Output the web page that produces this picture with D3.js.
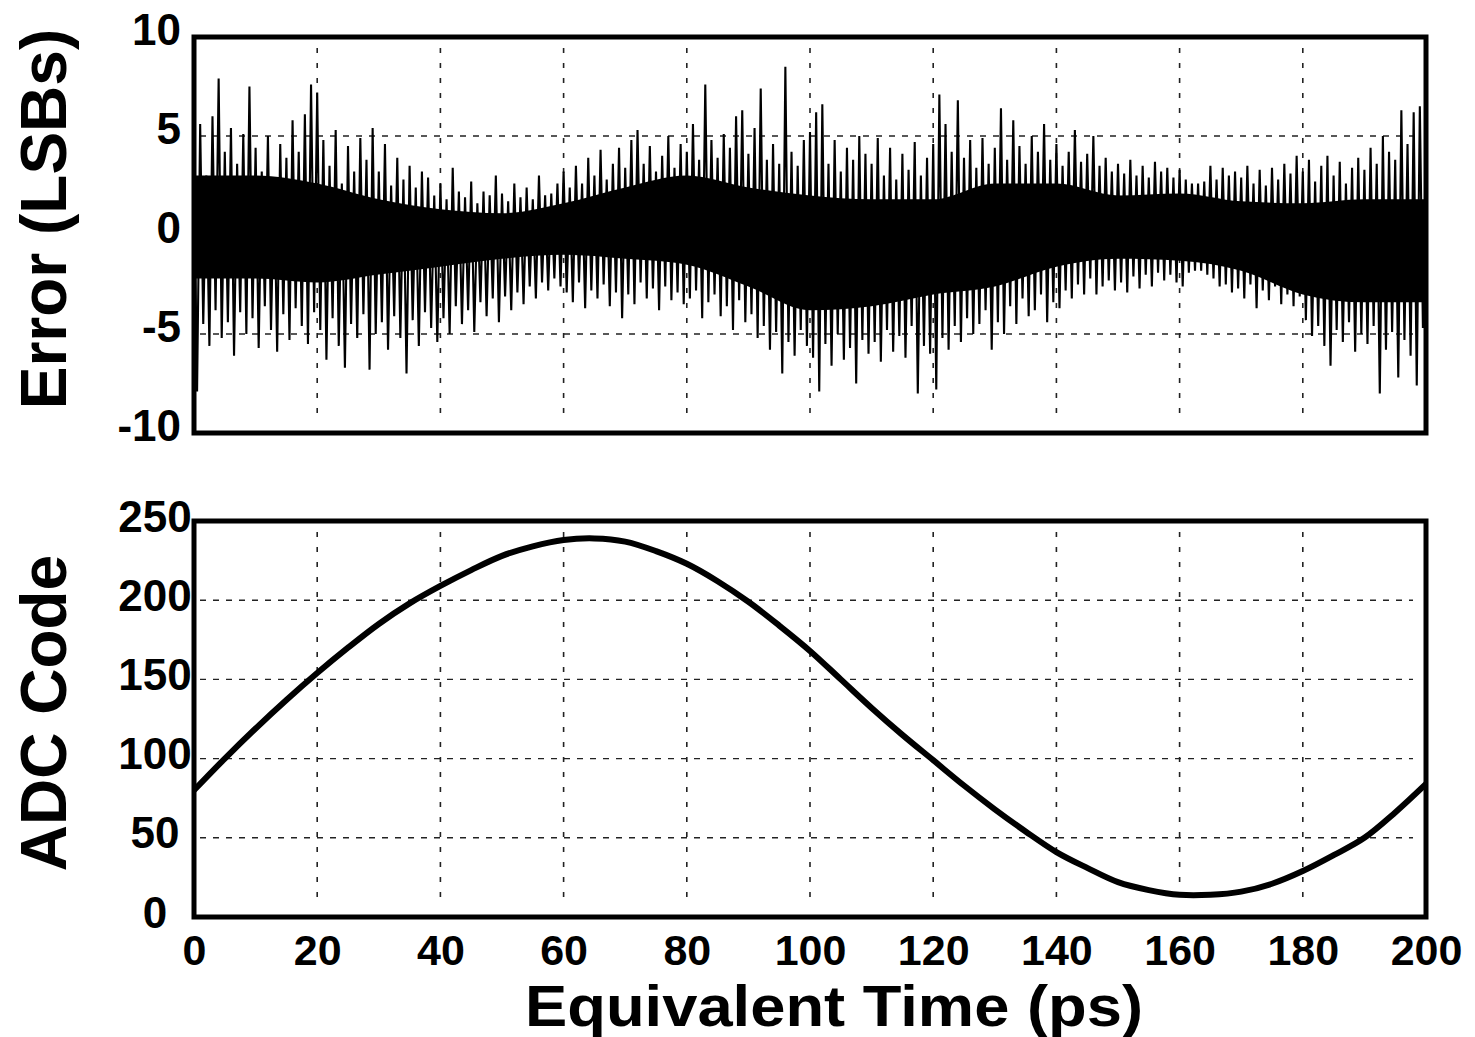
<!DOCTYPE html>
<html>
<head>
<meta charset="utf-8">
<script src="https://cdn.jsdelivr.net/npm/d3@7"></script>
<style>
  body { margin: 0; background: #fff; }
  svg text { font-family: "Liberation Sans", Arial, Helvetica, sans-serif; font-weight: bold; fill: #000; }
</style>
</head>
<body>
<div id="chart"></div>
<script>
// ---- data ----
const timeTicks = [0, 20, 40, 60, 80, 100, 120, 140, 160, 180, 200];
const errorTicks = [-10, -5, 0, 5, 10];
const codeTicks = [0, 50, 100, 150, 200, 250];

// ADC code, every 5 ps
const codeTime = d3.range(0, 201, 5);
const codeValues = [80, 100, 119, 137, 154, 170, 185, 198, 209, 219, 228, 234, 238, 239, 237, 231,
  223, 212, 199, 184, 168, 150, 132, 115, 99, 83, 68, 54, 41, 31, 22, 17, 14, 14, 16, 21, 29, 39, 50, 66, 84];

// error spikes: upper and lower excursion in each 1 ps slot (LSBs)
const errHigh = [
  3.5, 5.6, 3.0, 6.0, 7.9, 4.2, 5.4, 3.6, 5.1, 7.5,
  4.4, 3.2, 5.0, 2.8, 4.6, 3.9, 5.8, 4.2, 6.1, 7.6,
  7.2, 4.8, 3.5, 5.3, 2.6, 4.5, 3.2, 4.9, 3.8, 5.4,
  3.2, 4.6, 2.5, 3.9, 2.8, 3.5, 2.4, 3.2, 2.9, 2.0,
  2.6, 1.8, 3.4, 2.2, 1.9, 2.7, 1.6, 2.2, 2.0, 3.0,
  2.1, 1.7, 2.6, 1.9, 2.4, 1.8, 3.0, 2.0, 2.1, 2.6,
  3.2, 2.4, 3.5, 2.6, 3.9, 3.0, 4.3, 2.8, 3.6, 4.4,
  3.4, 4.8, 5.3, 3.6, 4.5, 3.2, 4.0, 5.0, 3.4, 4.6,
  4.2, 5.6, 3.8, 7.6, 4.8, 3.9, 5.1, 4.4, 6.0, 6.3,
  4.1, 5.4, 7.4, 3.8, 4.6, 3.6, 8.5, 4.2, 3.5, 4.8,
  5.2, 6.2, 6.6, 3.6, 4.8, 3.2, 4.4, 3.8, 5.0, 4.1,
  3.6, 4.9, 3.0, 4.4, 2.8, 4.1, 3.3, 4.7, 3.0, 3.9,
  4.6, 7.1, 5.6, 4.2, 6.8, 3.9, 4.8, 3.4, 4.9, 3.6,
  4.4, 6.4, 3.8, 5.8, 4.5, 3.6, 5.0, 4.2, 5.6, 3.8,
  4.6, 3.5, 4.2, 5.3, 3.7, 4.1, 5.0, 3.5, 3.9, 3.2,
  3.6, 3.1, 3.8, 3.0, 3.5, 2.9, 3.7, 3.2, 3.4, 2.9,
  3.3, 2.8, 2.6, 2.6, 2.7, 3.5, 2.8, 3.4, 3.0, 3.2,
  2.9, 3.5, 2.6, 3.3, 2.5, 3.4, 2.8, 3.6, 3.1, 4.0,
  3.2, 3.8, 2.7, 3.5, 4.0, 3.0, 3.7, 2.6, 3.4, 3.9,
  3.3, 4.4, 3.6, 5.0, 4.2, 3.8, 6.3, 4.6, 6.2, 6.5,
  4.0];
const errLow = [
  -7.9, -4.5, -5.6, -3.8, -5.2, -4.4, -6.1, -3.9, -5.0, -4.2,
  -5.7, -3.6, -4.8, -5.9, -4.0, -5.3, -3.7, -4.6, -5.5, -3.9,
  -4.8, -6.3, -4.2, -5.6, -6.7, -4.5, -5.2, -4.0, -6.8, -5.0,
  -4.4, -5.8, -4.1, -5.2, -7.0, -4.3, -5.6, -3.9, -4.7, -5.4,
  -4.2, -5.0, -3.6, -4.5, -3.8, -4.9, -3.4, -4.1, -3.2, -4.4,
  -3.1, -3.8, -2.9, -3.5, -2.6, -3.2, -2.4, -2.8, -2.2, -2.6,
  -2.9, -3.4, -2.4, -3.7, -2.8, -3.2, -2.5, -3.6, -2.9, -4.2,
  -3.0, -3.5, -2.4, -3.2, -2.7, -3.8, -2.6, -3.3, -2.9, -3.5,
  -3.2, -2.8, -4.2, -3.4, -3.0, -4.1, -3.6, -4.8, -3.3, -4.4,
  -4.0, -5.2, -4.6, -5.8, -4.9, -7.0, -5.4, -6.1, -4.8, -5.6,
  -6.2, -7.9, -5.5, -6.6, -5.0, -6.3, -5.7, -7.5, -5.3, -6.0,
  -5.4, -6.4, -4.8, -5.9, -5.1, -6.2, -4.6, -8.0, -5.6, -6.0,
  -7.8, -5.2, -5.8, -4.6, -5.4, -4.2, -5.0, -4.5, -3.8, -5.8,
  -4.4, -5.0, -3.6, -4.5, -3.2, -4.1, -3.8, -3.0, -4.4, -3.4,
  -3.7, -2.8, -3.2, -2.5, -3.0, -2.2, -3.0, -2.6, -2.3, -2.8,
  -2.4, -2.9, -2.1, -2.7, -2.0, -2.6, -1.9, -2.3, -2.0, -2.4,
  -2.6, -1.9, -1.8, -1.8, -2.0, -2.2, -2.6, -2.5, -2.9, -2.7,
  -3.2, -2.5, -3.7, -2.8, -3.3, -2.6, -3.5, -3.0, -3.6, -3.1,
  -4.3, -5.1, -4.6, -5.6, -6.6, -4.8, -5.4, -4.4, -5.9, -5.0,
  -5.5, -4.6, -8.0, -5.8, -4.9, -7.2, -5.3, -6.1, -7.6, -4.7,
  -5.0];

// dense core of the error trace, every 10 ps
const coreTime = d3.range(0, 201, 10);
const coreLow = [-2.2, -2.2, -2.4, -2.0, -1.6, -1.2, -1.0, -1.2, -1.5, -2.6, -3.8,
  -3.6, -3.0, -2.6, -1.6, -1.2, -1.3, -1.8, -3.0, -3.4, -3.4];
const coreHigh = [3.0, 3.0, 2.6, 1.8, 1.3, 1.1, 1.6, 2.4, 3.0, 2.4, 2.0,
  1.8, 1.8, 2.6, 2.6, 2.0, 2.1, 1.7, 1.6, 1.8, 1.8];

// ---- layout ----
const svgWidth = 1475, svgHeight = 1037;
const plotLeft = 194, plotRight = 1426;
const panels = {
  err: { top: 37, bottom: 433 },
  code: { top: 521, bottom: 917 },
};

const svg = d3.select("#chart").append("svg")
  .attr("width", svgWidth)
  .attr("height", svgHeight);

const xScale = d3.scaleLinear().domain([0, 200]).range([plotLeft, plotRight]);
const yErr = d3.scaleLinear().domain([-10, 10]).range([panels.err.bottom, panels.err.top]);
const yCode = d3.scaleLinear().domain([0, 250]).range([panels.code.bottom, panels.code.top]);
const plainNum = d => String(d); // hyphen minus, like the original

function clipFor(id, p) {
  svg.append("clipPath").attr("id", id)
    .append("rect")
    .attr("x", plotLeft).attr("y", p.top)
    .attr("width", plotRight - plotLeft).attr("height", p.bottom - p.top);
}
clipFor("clip-err", panels.err);
clipFor("clip-code", panels.code);

function drawGrid(p, yScale, yGrid) {
  const g = svg.append("g").attr("class", "grid");
  g.selectAll("line.vgrid")
    .data(timeTicks.slice(1, -1))
    .enter().append("line")
    .attr("x1", d => xScale(d)).attr("x2", d => xScale(d))
    .attr("y1", p.top + 11).attr("y2", p.bottom - 10)
    .attr("stroke", "#222").attr("stroke-width", 1.6)
    .attr("stroke-dasharray", "5,10");
  g.selectAll("line.hgrid")
    .data(yGrid)
    .enter().append("line")
    .attr("x1", plotLeft + 6).attr("x2", plotRight - 13)
    .attr("y1", d => yScale(d)).attr("y2", d => yScale(d))
    .attr("stroke", "#222").attr("stroke-width", 1.4)
    .attr("stroke-dasharray", "6,7");
}
drawGrid(panels.err, yErr, [-5, 0, 5]);
drawGrid(panels.code, yCode, [50, 100, 150, 200]);

// error trace: dense core + spikes
const coreArea = d3.area()
  .x((d, i) => xScale(coreTime[i]))
  .y0((d, i) => yErr(coreLow[i]))
  .y1((d, i) => yErr(coreHigh[i]))
  .curve(d3.curveMonotoneX);
svg.append("path")
  .datum(coreTime)
  .attr("clip-path", "url(#clip-err)")
  .attr("d", coreArea)
  .attr("fill", "#000");

const errPoints = [];
errHigh.forEach((v, i) => {
  errPoints.push([i, v]);
  if (i < errLow.length - 1) errPoints.push([i + 0.5, errLow[i]]);
});
errPoints.push([200, errLow[200]]);

svg.append("path")
  .datum(errPoints)
  .attr("clip-path", "url(#clip-err)")
  .attr("d", d3.line().x(d => xScale(d[0])).y(d => yErr(d[1])))
  .attr("fill", "none")
  .attr("stroke", "#000")
  .attr("stroke-width", 2.1)
  .attr("stroke-linejoin", "miter");

// ADC code trace
svg.append("path")
  .datum(codeValues)
  .attr("clip-path", "url(#clip-code)")
  .attr("d", d3.line()
    .x((d, i) => xScale(codeTime[i]))
    .y(d => yCode(d))
    .curve(d3.curveCatmullRom))
  .attr("fill", "none")
  .attr("stroke", "#000")
  .attr("stroke-width", 6);

// frames
Object.values(panels).forEach(p => {
  svg.append("rect")
    .attr("x", plotLeft).attr("y", p.top)
    .attr("width", plotRight - plotLeft).attr("height", p.bottom - p.top)
    .attr("fill", "none").attr("stroke", "#000").attr("stroke-width", 5);
});

// tick labels
const errAxis = svg.append("g")
  .attr("transform", `translate(${plotLeft},0)`)
  .call(d3.axisLeft(yErr).tickValues(errorTicks).tickFormat(plainNum).tickSize(0).tickPadding(13));
errAxis.select(".domain").remove();
errAxis.selectAll("text")
  .attr("dy", "0.16em")
  .style("font-size", "44px");

const codeAxis = svg.append("g")
  .attr("transform", `translate(${plotLeft},0)`)
  .call(d3.axisLeft(yCode).tickValues(codeTicks).tickFormat(plainNum).tickSize(0));
codeAxis.select(".domain").remove();
codeAxis.selectAll("text")
  .attr("x", -39)
  .attr("dy", "0.23em")
  .attr("text-anchor", "middle")
  .style("font-size", "44px");

const timeAxis = svg.append("g")
  .attr("transform", `translate(0,${panels.code.bottom})`)
  .call(d3.axisBottom(xScale).tickValues(timeTicks).tickFormat(plainNum).tickSize(0).tickPadding(17));
timeAxis.select(".domain").remove();
timeAxis.selectAll("text").style("font-size", "43px");

// axis titles
svg.append("text")
  .attr("transform", `translate(66,219) rotate(-90)`)
  .attr("text-anchor", "middle")
  .style("font-size", "64px")
  .text("Error (LSBs)");

svg.append("text")
  .attr("transform", `translate(66,713) rotate(-90)`)
  .attr("text-anchor", "middle")
  .style("font-size", "64px")
  .text("ADC Code");

svg.append("text")
  .attr("x", 834).attr("y", 1026)
  .attr("text-anchor", "middle")
  .attr("textLength", 618)
  .attr("lengthAdjust", "spacingAndGlyphs")
  .style("font-size", "57px")
  .text("Equivalent Time (ps)");
</script>
</body>
</html>
